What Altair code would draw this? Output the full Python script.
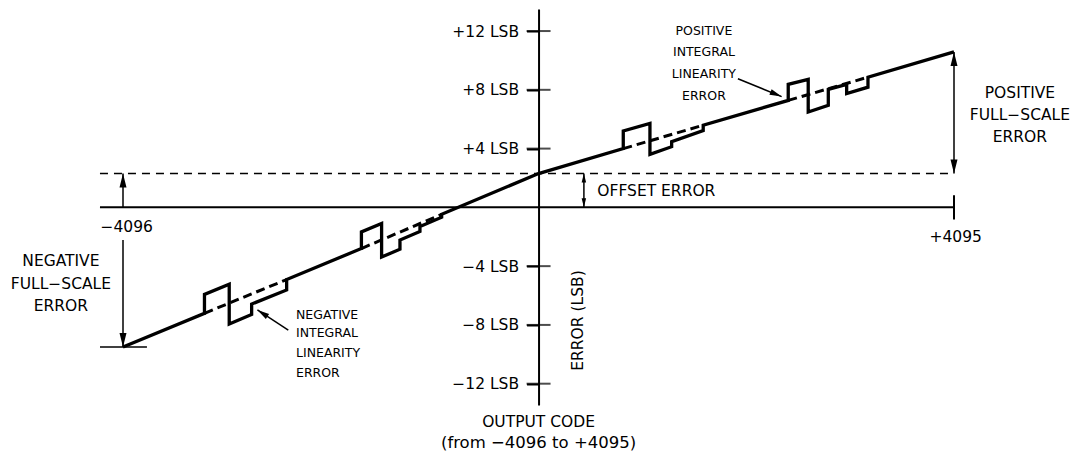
import altair as alt
import pandas as pd

# ---------------- data (output code vs error in LSB) ----------------
Y_TICKS = [-12, -8, -4, 4, 8, 12]

# actual transfer error path (solid)
curve_code = [-4096, -3293, -3293, -3049, -3049, -2828, -2828, -2483, -2483,
              -1746, -1746, -1547, -1547, -1366, -1366, -1169, -1169, -955, -955,
              0, 835, 835, 1098, 1098, 1312, 1312, 1623, 1623,
              2461, 2461, 2658, 2658, 2856, 2856, 3037, 3037, 3247, 3247, 4095]
curve_lsb = [-9.50, -7.21, -5.92, -5.23, -7.94, -7.29, -6.58, -5.62, -4.91,
             -2.80, -1.67, -1.10, -3.38, -2.85, -2.22, -1.64, -1.30, -0.67, -0.47,
             2.30, 4.00, 5.20, 5.72, 3.61, 4.13, 4.47, 5.22, 5.59,
             7.28, 8.37, 8.71, 6.49, 6.94, 8.03, 8.37, 7.75, 8.18, 8.86, 10.58]

# ideal (dashed) segments through the non-linear regions
ideal_code_a = [-3293, -1746, 835, 2461]
ideal_lsb_a = [-7.21, -2.80, 4.00, 7.28]
ideal_code_b = [-2483, -955, 1623, 3247]
ideal_lsb_b = [-4.91, -0.47, 5.59, 8.86]

OFFSET_LSB = 2.30
NEG_FS_LSB = -9.50
POS_FS_LSB = 10.58
CODE_MIN, CODE_MAX = -4096, 4095
AXIS_LEFT_CODE = -4323

# ---------------- scales ----------------
W, H = 831, 396
xs = alt.Scale(domain=[CODE_MIN, CODE_MAX], nice=False, zero=False)
ys = alt.Scale(domain=[-13.45, 13.5], nice=False, zero=False)
FONT = "DejaVu Sans"
BLACK = "#000000"

yaxis = alt.Axis(
    values=Y_TICKS,
    labelExpr="(datum.value > 0 ? '+' : '\u2212') + abs(datum.value) + ' LSB'",
    offset=-415.55, grid=False,
    domainColor=BLACK, domainWidth=2,
    tickColor=BLACK, tickWidth=2, tickSize=12,
    labelFont=FONT, labelFontSize=15.5, labelColor=BLACK, labelPadding=8,
    title="ERROR (LSB)", titleFont=FONT, titleFontSize=15.5, titleFontWeight="normal",
    titleColor=BLACK, titleAngle=270, titleX=39.3, titleY=311,
    titleAlign="center", titleBaseline="middle",
)


def X(f="x"):
    return alt.X(f"{f}:Q", scale=xs, axis=None)


def Y(f="y"):
    return alt.Y(f"{f}:Q", scale=ys, axis=yaxis)


# main curve
curve_df = pd.DataFrame({"x": curve_code, "y": curve_lsb, "i": range(len(curve_code))})
curve = alt.Chart(curve_df).mark_line(
    color=BLACK, strokeWidth=3.3, strokeJoin="miter", strokeCap="butt"
).encode(x=X(), y=Y(), order=alt.Order("i:Q"))

# ideal dashed segments
ideal_df = pd.DataFrame({"x": ideal_code_a, "y": ideal_lsb_a,
                         "x2": ideal_code_b, "y2": ideal_lsb_b})
ideal = alt.Chart(ideal_df).mark_rule(
    color=BLACK, strokeWidth=3, strokeDash=[9, 5], strokeCap="butt"
).encode(x=X(), y=Y(), x2="x2:Q", y2="y2:Q")

# x axis line and end tick, thin reference lines
axis_df = pd.DataFrame({
    "x": [AXIS_LEFT_CODE, CODE_MAX, AXIS_LEFT_CODE],
    "x2": [CODE_MAX, CODE_MAX, -3860],
    "y": [0, -0.82, NEG_FS_LSB],
    "y2": [0, 0.82, NEG_FS_LSB],
    "w": [2, 2, 1.5],
})
axis_lines = alt.Chart(axis_df).mark_rule(color=BLACK, strokeCap="butt").encode(
    x=X(), y=Y(), x2="x2:Q", y2="y2:Q", strokeWidth=alt.StrokeWidth("w:Q", scale=None))

offset_df = pd.DataFrame({"x": [AXIS_LEFT_CODE], "x2": [CODE_MAX],
                          "y": [OFFSET_LSB], "y2": [OFFSET_LSB]})
offset_line = alt.Chart(offset_df).mark_rule(
    color=BLACK, strokeWidth=1.5, strokeDash=[8, 6], strokeCap="butt"
).encode(x=X(), y=Y(), x2="x2:Q", y2="y2:Q")

# cross ticks on the y axis
ticks_df = pd.DataFrame({"x": [0] * len(Y_TICKS), "y": Y_TICKS})
yticks = alt.Chart(ticks_df).mark_tick(
    color=BLACK, orient="horizontal", size=24, thickness=2
).encode(x=X(), y=Y())

# arrow shafts
shaft_df = pd.DataFrame({
    "x": [447, CODE_MAX, CODE_MIN, CODE_MIN, -2467, 1965],
    "y": [0, OFFSET_LSB, 0, -2.22, -8.35, 8.75],
    "x2": [447, CODE_MAX, CODE_MIN, CODE_MIN, -2771, 2396],
    "y2": [OFFSET_LSB, POS_FS_LSB, OFFSET_LSB, NEG_FS_LSB, -6.98, 7.54],
})
shafts = alt.Chart(shaft_df).mark_rule(color=BLACK, strokeWidth=1.5).encode(
    x=X(), y=Y(), x2="x2:Q", y2="y2:Q")

# arrow heads (tip at the point)
head_df = pd.DataFrame({
    "x": [447, 447, CODE_MAX, CODE_MAX, CODE_MIN, CODE_MIN, -2771, 2396],
    "y": [OFFSET_LSB, 0, POS_FS_LSB, OFFSET_LSB, OFFSET_LSB, NEG_FS_LSB, -6.98, 7.54],
    "a": [0, 180, 0, 180, 0, 180, 303, 112],
    "s": [81, 81, 196, 196, 196, 196, 144, 144],
})
heads = alt.Chart(head_df).mark_point(
    shape="M0,0L0.5,2L-0.5,2Z", filled=True, color=BLACK, opacity=1, strokeWidth=0
).encode(x=X(), y=Y(), angle=alt.Angle("a:Q", scale=None),
         size=alt.Size("s:Q", scale=None))


def text_layer(rows, align, size):
    df = pd.DataFrame(rows, columns=["t", "x", "y"])
    return alt.Chart(df).mark_text(
        align=align, baseline="middle", font=FONT, fontSize=size, color=BLACK
    ).encode(x=X(), y=Y(), text="t:N")


big_center = text_layer([
    ("NEGATIVE", -4708, -3.63), ("FULL\u2212SCALE", -4708, -5.23), ("ERROR", -4708, -6.70),
    ("POSITIVE", 4745, 7.77), ("FULL\u2212SCALE", 4745, 6.29), ("ERROR", 4745, 4.81),
    ("\u22124096", -4060, -1.35), ("+4095", 4112, -2.03),
    ("OUTPUT CODE", 0, -14.58),
], "center", 15.5)
big_left = text_layer([("OFFSET ERROR", 579, 1.14)], "left", 15.5)
sub_title = text_layer([("(from \u22124096 to +4095)", 0, -16.05)], "center", 16.5)
small_left = text_layer([
    ("NEGATIVE", -2391, -7.32), ("INTEGRAL", -2391, -8.57),
    ("LINEARITY", -2391, -9.89), ("ERROR", -2391, -11.25),
], "left", 12.5)
small_center = text_layer([
    ("POSITIVE", 1630, 12.01), ("INTEGRAL", 1630, 10.58),
    ("LINEARITY", 1630, 9.10), ("ERROR", 1630, 7.55),
], "center", 12.5)

chart = alt.layer(
    offset_line, axis_lines, yticks, ideal, curve, shafts, heads,
    big_center, big_left, sub_title, small_left, small_center,
).properties(
    width=W, height=H,
    autosize=alt.AutoSizeParams(type="none"),
    padding={"left": 115, "top": 1, "right": 119, "bottom": 52},
    background="white",
).configure_view(stroke=None)

chart.save("out.html", embed_options={"renderer": "svg", "actions": False})
